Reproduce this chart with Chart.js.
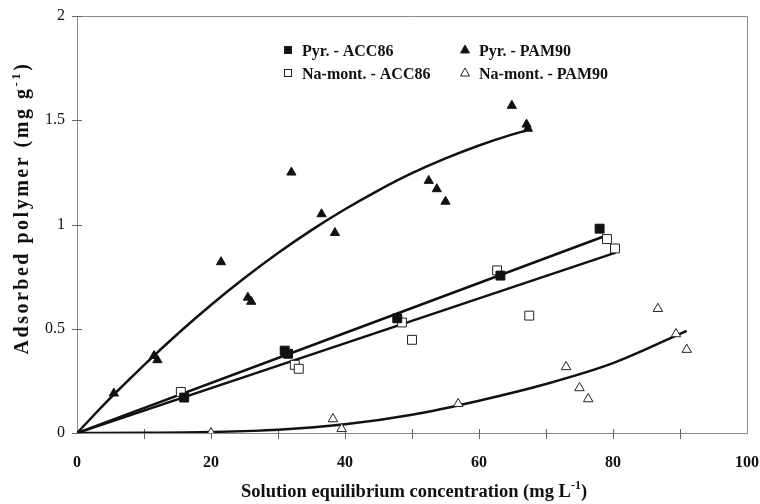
<!DOCTYPE html>
<html>
<head>
<meta charset="utf-8">
<script src="https://cdn.jsdelivr.net/npm/chart.js@4/dist/chart.umd.min.js"></script>
<style>
html,body{margin:0;padding:0;background:#fff;}
#wrap{width:760px;height:504px;position:relative;}
</style>
</head>
<body>
<div id="wrap"><canvas id="c" width="760" height="504"></canvas></div>
<script>
// ---- data ----
const pyrAccX = [16, 31, 31.5, 47.8, 63.2, 78];
const pyrAccY = [0.17, 0.395, 0.38, 0.55, 0.755, 0.98];

const pyrPamX = [5.5, 11.5, 12, 21.5, 25.5, 26, 32, 36.5, 38.5, 52.5, 53.7, 55, 64.9, 67.1, 67.3];
const pyrPamY = [0.19, 0.37, 0.35, 0.82, 0.65, 0.63, 1.25, 1.05, 0.96, 1.21, 1.17, 1.11, 1.57, 1.48, 1.46];

const naAccX = [15.5, 32.5, 33.1, 48.5, 50, 62.7, 67.5, 79.1, 80.3];
const naAccY = [0.197, 0.327, 0.308, 0.53, 0.447, 0.78, 0.563, 0.93, 0.885];

const naPamX = [20, 38.2, 39.5, 56.9, 73, 75, 76.3, 86.7, 89.4, 91];
const naPamY = [0, 0.067, 0.02, 0.14, 0.317, 0.216, 0.163, 0.596, 0.475, 0.40];

// fitted curves
const fitPyrAccX = [0, 78.4];
const fitPyrAccY = [0, 0.94];
const fitNaAccX = [0, 80.4];
const fitNaAccY = [0, 0.865];
const fitPyrPamX = [0, 5, 10, 15, 20, 25, 30, 35, 40, 45, 50, 55, 60, 65, 67];
const fitPyrPamY = [0, 0.168, 0.326, 0.475, 0.614, 0.743, 0.863, 0.973, 1.073, 1.164, 1.246, 1.317, 1.379, 1.432, 1.45];
const fitNaPamX = [0, 10, 20, 30, 40, 50, 60, 70, 80, 91];
const fitNaPamY = [0, 0.001, 0.005, 0.016, 0.042, 0.088, 0.155, 0.235, 0.335, 0.49];

const xTicks = [0, 20, 40, 60, 80, 100];
const yTicks = [0, 0.5, 1, 1.5, 2];

const legendLabels = ['Pyr. - ACC86', 'Pyr. - PAM90', 'Na-mont. - ACC86', 'Na-mont. - PAM90'];
const xTitle = 'Solution equilibrium concentration (mg L';
const yTitle = 'Adsorbed polymer (mg g';

function pts(xs, ys){ return xs.map((x,i)=>({x:x, y:ys[i]})); }

const SERIF = '"Liberation Serif", "Times New Roman", serif';

const markerSets = [
  {label: legendLabels[0], data: pts(pyrAccX, pyrAccY), pointStyle:'rect', pointRadius:6.3, backgroundColor:'#111', borderColor:'#111', borderWidth:1, showLine:false},
  {label: legendLabels[1], data: pts(pyrPamX, pyrPamY), pointStyle:'triangle', pointRadius:5.3, backgroundColor:'#111', borderColor:'#111', borderWidth:1, showLine:false},
  {label: legendLabels[2], data: pts(naAccX, naAccY), pointStyle:'rect', pointRadius:6.3, backgroundColor:'#fff', borderColor:'#222', borderWidth:1, showLine:false},
  {label: legendLabels[3], data: pts(naPamX, naPamY), pointStyle:'triangle', pointRadius:5.5, backgroundColor:'#fff', borderColor:'#222', borderWidth:1, showLine:false}
];
function fitSet(xs, ys){
  return {data: pts(xs, ys), showLine:true, pointRadius:0, borderColor:'#111', borderWidth:2.5, tension:0.4, cubicInterpolationMode:'monotone', fill:false};
}
const fitSets = [fitSet(fitPyrAccX, fitPyrAccY), fitSet(fitNaAccX, fitNaAccY), fitSet(fitPyrPamX, fitPyrPamY), fitSet(fitNaPamX, fitNaPamY)];

function drawTitle(ctx, text, x, y, size, spacing){
  const main = 'bold ' + size + 'px ' + SERIF;
  const sup = 'bold ' + Math.round(size * 0.63) + 'px ' + SERIF;
  ctx.letterSpacing = spacing + 'px';
  ctx.font = main; const w1 = ctx.measureText(text).width;
  ctx.font = sup; const ws = ctx.measureText('-1').width;
  ctx.font = main; const w2 = ctx.measureText(')').width;
  const sx = x - (w1 + ws + w2) / 2;
  ctx.textAlign = 'left';
  ctx.textBaseline = 'alphabetic';
  ctx.font = main; ctx.fillText(text, sx, y);
  ctx.font = sup; ctx.fillText('-1', sx + w1, y - size * 0.42);
  ctx.font = main; ctx.fillText(')', sx + w1 + ws, y);
  ctx.letterSpacing = '0px';
}

const decorPlugin = {
  id: 'decor',
  beforeDatasetsDraw(chart){
    const ctx = chart.ctx, a = chart.chartArea;
    const xs = chart.scales.x, ys = chart.scales.y;
    ctx.save();
    ctx.strokeStyle = '#8a8a8a';
    ctx.lineWidth = 1;
    const L = Math.round(a.left)+0.5, R = Math.round(a.right)+0.5, T = Math.round(a.top)+0.5, B = Math.round(a.bottom)+0.5;
    ctx.beginPath();
    ctx.moveTo(L, T); ctx.lineTo(R, T); ctx.lineTo(R, B); ctx.lineTo(L, B); ctx.closePath();
    ctx.stroke();
    ctx.strokeStyle = '#666';
    ctx.beginPath();
    for (let v = 10; v < 100; v += 10){
      const px = Math.round(xs.getPixelForValue(v)) + 0.5;
      ctx.moveTo(px, a.bottom - 4); ctx.lineTo(px, a.bottom + 6);
    }
    yTicks.forEach(v => {
      const py = Math.round(ys.getPixelForValue(v)) + 0.5;
      ctx.moveTo(a.left - 5, py); ctx.lineTo(a.left + 5, py);
    });
    ctx.stroke();
    ctx.restore();
  },
  afterDraw(chart){
    const ctx = chart.ctx, a = chart.chartArea;
    ctx.save();
    ctx.fillStyle = '#111';
    drawTitle(ctx, xTitle, (a.left + a.right) / 2 + 2, 497, 18.5, 0);

    ctx.save();
    ctx.translate(28, 208);
    ctx.rotate(-Math.PI/2);
    drawTitle(ctx, yTitle, 0, 0, 20, 2.5);
    ctx.restore();

    // legend
    ctx.font = 'bold 16px ' + SERIF;
    ctx.textAlign = 'left';
    ctx.textBaseline = 'alphabetic';
    const cols = [288, 465], rows = [50, 73];
    const textOff = 14;
    markerSets.forEach((ds, i) => {
      const cx = cols[i % 2], cy = rows[Math.floor(i/2)];
      ctx.lineWidth = 1;
      ctx.fillStyle = ds.backgroundColor; ctx.strokeStyle = '#222';
      if (ds.pointStyle === 'rect'){
        ctx.fillRect(cx - 4, cy - 4, 8, 8);
        ctx.strokeRect(cx - 3.5, cy - 3.5, 7, 7);
      } else {
        ctx.beginPath();
        ctx.moveTo(cx, cy - 5); ctx.lineTo(cx + 4.5, cy + 3); ctx.lineTo(cx - 4.5, cy + 3); ctx.closePath();
        ctx.fill(); ctx.stroke();
      }
      ctx.fillStyle = '#111';
      ctx.fillText(ds.label, cx + textOff, cy + 6);
    });
    ctx.restore();
  }
};

new Chart(document.getElementById('c'), {
  type: 'scatter',
  data: { datasets: [...markerSets, ...fitSets] },
  options: {
    responsive: false,
    animation: false,
    devicePixelRatio: 1,
    layout: { padding: { top: 16, right: 13, left: 0, bottom: 0 } },
    plugins: { legend: { display: false }, tooltip: { enabled: false } },
    scales: {
      x: {
        type: 'linear', min: 0, max: 100,
        afterFit(s){ s.height = 71; s.paddingLeft = 0; s.paddingRight = 0; },
        afterBuildTicks(s){ s.ticks = xTicks.map(v => ({value: v})); },
        grid: { display: false, drawTicks: false },
        border: { display: false },
        ticks: { color: '#111', font: { family: SERIF, size: 16, weight: 'bold' }, padding: 20, maxRotation: 0, autoSkip: false,
                 callback: v => String(v) }
      },
      y: {
        type: 'linear', min: 0, max: 2,
        afterFit(s){ s.width = 77; s.paddingTop = 0; s.paddingBottom = 0; },
        afterBuildTicks(s){ s.ticks = yTicks.map(v => ({value: v})); },
        grid: { display: false, drawTicks: false },
        border: { display: false },
        ticks: { color: '#111', font: { family: SERIF, size: 16 }, padding: 12, autoSkip: false,
                 callback: v => String(v) }
      }
    }
  },
  plugins: [decorPlugin]
});
</script>
</body>
</html>
